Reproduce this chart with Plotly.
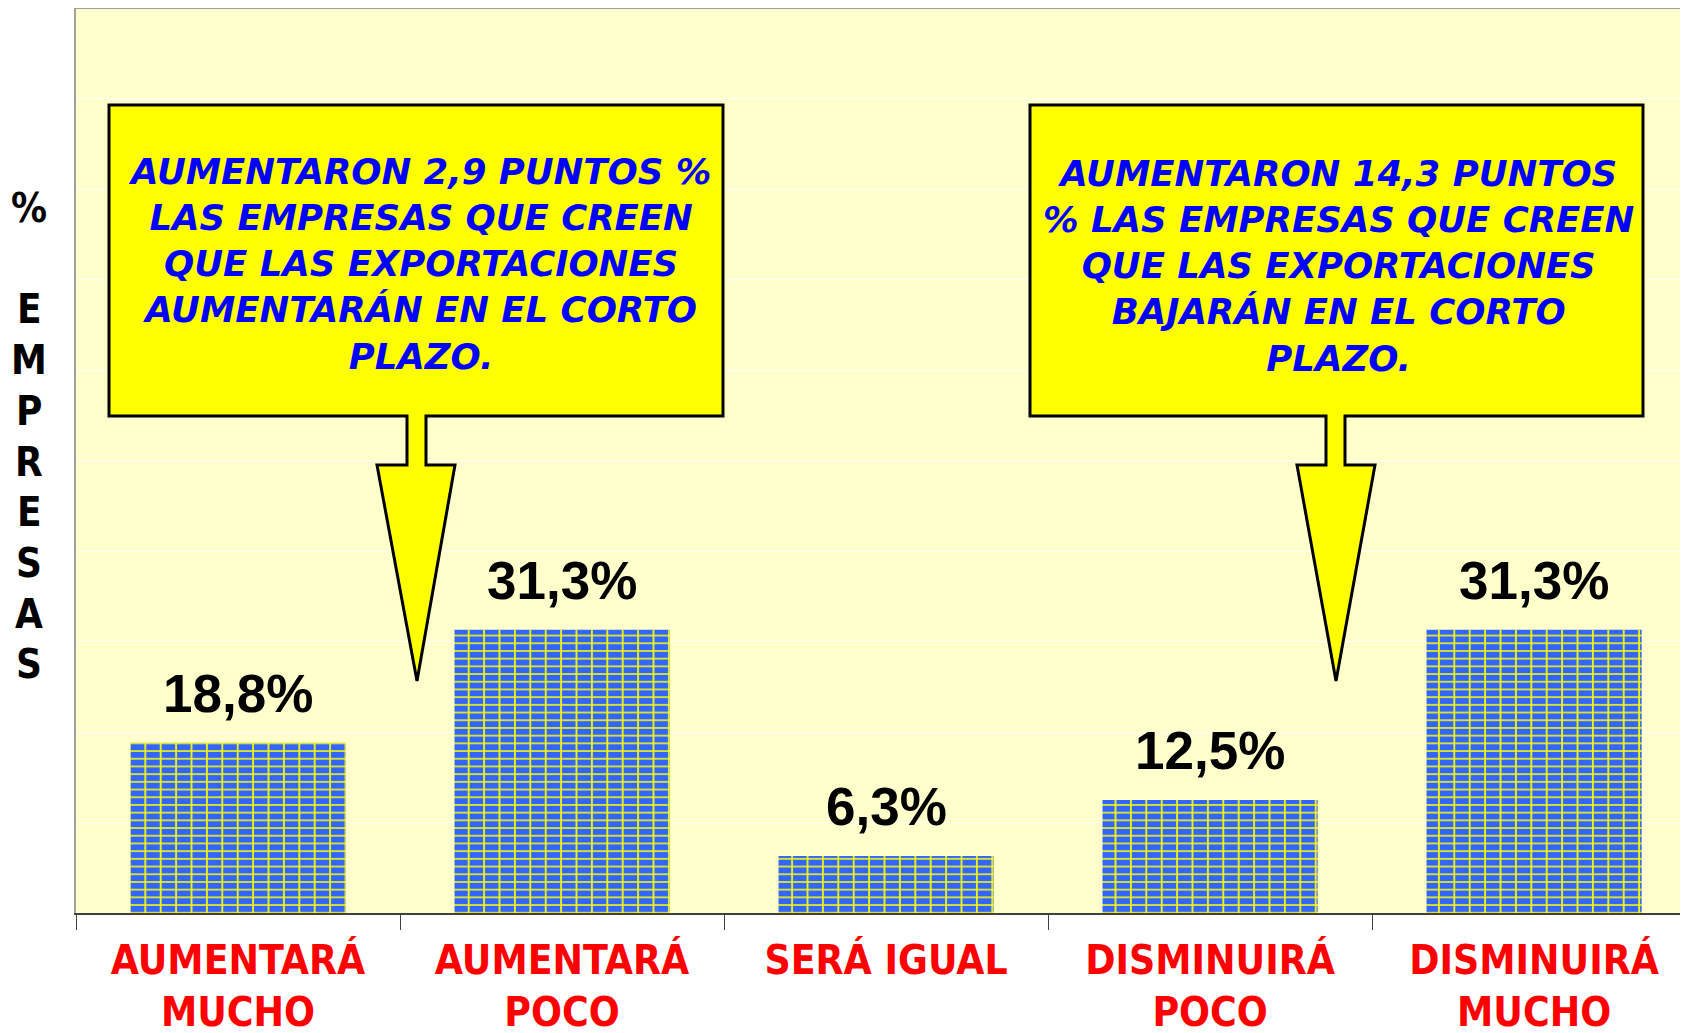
import plotly.graph_objects as go

# ---------------- data ----------------
categories = ["AUMENTARÁ<br>MUCHO", "AUMENTARÁ<br>POCO", "SERÁ IGUAL",
              "DISMINUIRÁ<br>POCO", "DISMINUIRÁ<br>MUCHO"]
values = [18.8, 31.3, 6.3, 12.5, 31.3]
value_labels = ["18,8%", "31,3%", "6,3%", "12,5%", "31,3%"]
y_title_letters = ["%", "", "E", "M", "P", "R", "E", "S", "A", "S"]
callout_left_text = ["AUMENTARON 2,9 PUNTOS %", "LAS EMPRESAS QUE CREEN",
                     "QUE LAS EXPORTACIONES", "AUMENTARÁN EN EL CORTO", "PLAZO."]
callout_right_text = ["AUMENTARON 14,3 PUNTOS", "% LAS EMPRESAS QUE CREEN",
                      "QUE LAS EXPORTACIONES", "BAJARÁN EN EL CORTO", "PLAZO."]

# ---------------- layout geometry ----------------
BODY = 8                      # default page margin around the plot div
W, H = 1688 - BODY, 1033 - BODY
ML, MR, MT, MB = 76 - BODY, 0, 0, 1033 - 913
PW, PH = W - ML - MR, H - MT - MB
PLOT_LEFT, PLOT_BOTTOM = 76, 913   # page pixels


def px(x, y):
    """page pixel position -> paper coordinates (for decorations only)"""
    return (x - PLOT_LEFT) / PW, (PLOT_BOTTOM - y) / PH


def callout_path(bx0, by0, bx1, by1, sx0, sx1, sy1, hx0, hx1, tx, ty):
    pts = [(bx0, by0), (bx1, by0), (bx1, by1), (sx1, by1), (sx1, sy1),
           (hx1, sy1), (tx, ty), (hx0, sy1), (sx0, sy1), (sx0, by1), (bx0, by1)]
    p = [px(a, b) for a, b in pts]
    return "M " + " L ".join(f"{a:.5f},{b:.5f}" for a, b in p) + " Z"


BLUE = "#3366FF"
YELLOW = "#FFFF00"
TAHOMA = "DejaVu Sans Condensed, DejaVu Sans, sans-serif"

fig = go.Figure()
# brick body with horizontal mortar
fig.add_trace(go.Bar(
    x=categories, y=values, width=0.664,
    marker=dict(color=BLUE, line=dict(width=0),
                pattern=dict(shape="-", fgcolor=YELLOW, bgcolor=BLUE,
                             size=7.7, solidity=0.2, fillmode="replace")),
    hoverinfo="skip", showlegend=False))
# vertical mortar joints
fig.add_trace(go.Bar(
    x=categories, y=values, width=0.664,
    marker=dict(color="rgba(0,0,0,0)", line=dict(width=0),
                pattern=dict(shape="|", fgcolor=YELLOW, bgcolor="rgba(0,0,0,0)",
                             size=15.4, solidity=0.11, fillmode="replace")),
    hoverinfo="skip", showlegend=False))

annotations = []
for c, v, t in zip(categories, values, value_labels):
    annotations.append(dict(x=c, y=v, xref="x", yref="y", text=t, showarrow=False,
                            yanchor="middle", yshift=49,
                            font=dict(family="Liberation Sans, Arial, sans-serif",
                                      size=53, color="black", weight="bold")))

# vertical stacked y title
for i, ch in enumerate(y_title_letters):
    if not ch:
        continue
    xx, yy = px(29, 208 + i * 50.7)
    annotations.append(dict(x=xx, y=yy, xref="paper", yref="paper", text=ch,
                            showarrow=False, xanchor="center", yanchor="middle",
                            font=dict(family=TAHOMA, size=40, color="black",
                                      weight="bold")))

# callout texts
for lines, (cx, cy) in [(callout_left_text, (419, 264)), (callout_right_text, (1338, 266))]:
    xx, yy = px(cx, cy)
    annotations.append(dict(x=xx, y=yy, xref="paper", yref="paper",
                            text="<br>".join(f"<i>{l}</i>" for l in lines),
                            showarrow=False, xanchor="center", yanchor="middle",
                            align="center",
                            font=dict(family="DejaVu Sans, sans-serif", size=35.5,
                                      color="#0000FF", weight="bold", style="italic")))

shapes = [
    dict(type="path", xref="paper", yref="paper",
         path=callout_path(109, 105, 723, 416, 407, 426, 465, 377, 455, 417, 681),
         fillcolor=YELLOW, line=dict(color="black", width=3)),
    dict(type="path", xref="paper", yref="paper",
         path=callout_path(1030, 105, 1643, 416, 1326, 1345, 465, 1297, 1375, 1336, 681),
         fillcolor=YELLOW, line=dict(color="black", width=3)),
    dict(type="line", xref="paper", yref="paper", x0=0, x1=1, y0=1, y1=1,
         line=dict(color="#A0A0A0", width=2), layer="below"),
]

fig.update_layout(
    width=W, height=H,
    margin=dict(l=ML, r=MR, t=MT, b=MB, pad=0, autoexpand=False),
    paper_bgcolor="white", plot_bgcolor="#FFFFCC",
    barmode="overlay", showlegend=False,
    annotations=annotations, shapes=shapes,
    xaxis=dict(type="category", range=[-0.5, 4.475], tickson="boundaries",
               ticks="outside", ticklen=15, tickwidth=1, tickcolor="#404040",
               ticklabelstandoff=10, automargin=False,
               showline=True, linecolor="#404040", linewidth=2,
               showgrid=False, fixedrange=True,
               tickfont=dict(family=TAHOMA, size=40.5, color="#FF0000", weight="bold")),
    yaxis=dict(range=[0, 100], dtick=10, showticklabels=False, ticks="",
               showgrid=True, gridcolor="#FFFFFF", gridwidth=1, automargin=False,
               showline=True, linecolor="#A0A0A0", linewidth=2,
               zeroline=False, fixedrange=True),
)

fig.write_html("out.html", config={"displayModeBar": False})
